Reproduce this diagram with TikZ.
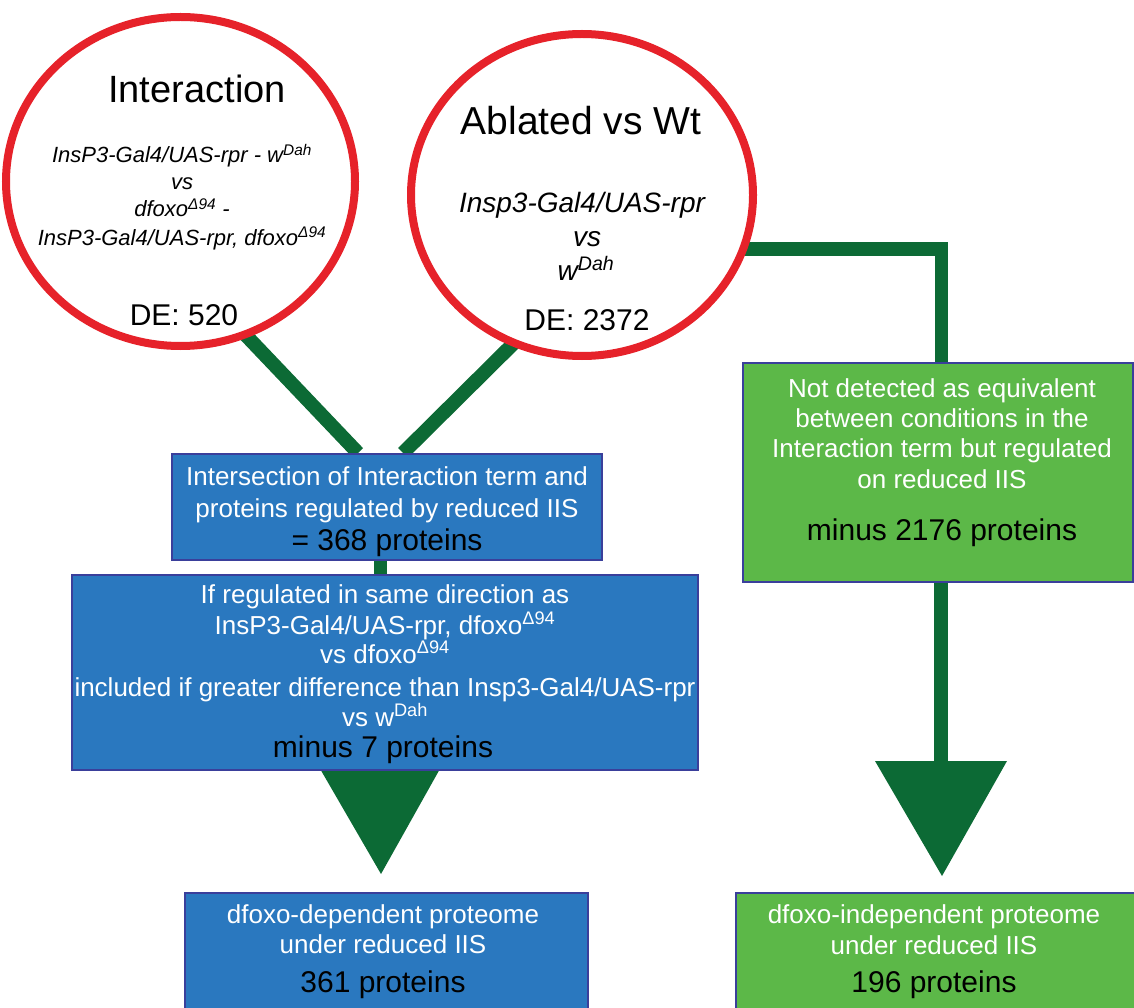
\documentclass[tikz,border=0pt]{standalone}
\usepackage{fontspec}
\setmainfont{Liberation Sans}
\usetikzlibrary{shapes.geometric,calc,backgrounds}
\definecolor{cred}{HTML}{E6222A}
\definecolor{dgreen}{HTML}{0C6A35}
\definecolor{bfill}{HTML}{2A78BF}
\definecolor{gfill}{HTML}{5CB848}
\definecolor{bdr}{HTML}{3A3F9B}
\newcommand\fsz[1]{\fontsize{#1}{#1}\selectfont}
\begin{document}
\begin{tikzpicture}[x=1pt,y=-1pt,
  ell/.style={ellipse, draw=cred, line width=8pt, fill=white, inner sep=0pt},
  boxx/.style={rectangle, draw=bdr, line width=2pt, inner sep=0pt},
  conn/.style={draw=dgreen, line width=14pt},
  tri/.style={fill=dgreen},
  ttl/.style={font=\fsz{38}, anchor=base, inner sep=0pt},
  itl/.style={font=\fsz{22}\itshape, anchor=base, inner sep=0pt},
  itr/.style={font=\fsz{28}\itshape, anchor=base, inner sep=0pt},
  de/.style={font=\fsz{30}, anchor=base, inner sep=0pt},
  wt/.style={font=\fsz{26}, text=white, anchor=base, inner sep=0pt},
  bt/.style={font=\fsz{30}, text=black, anchor=base, inner sep=0pt}]
\useasboundingbox (0,0) rectangle (1134,1008);
\clip (0,0) rectangle (1134,1008);

% shapes
\node[ell, minimum width=349, minimum height=329] (L) at (180.5,181.5) {};
\node[ell, minimum width=342, minimum height=322] (R) at (582,195) {};
\node[boxx, fill=bfill, minimum width=430, minimum height=106] (B1) at (387,507) {};
\node[boxx, fill=bfill, minimum width=626, minimum height=195] (B2) at (385,672.5) {};
\node[boxx, fill=gfill, minimum width=390, minimum height=219] (G1) at (938,472.5) {};
\node[boxx, fill=bfill, minimum width=403, minimum height=127] (BB) at (386.5,956.5) {};
\node[boxx, fill=gfill, minimum width=400, minimum height=127] (BG) at (936,956.5) {};

% connectors behind
\begin{scope}[on background layer]
\draw[conn] ($(L.center)+(57.5,145.5)$) -- ($(B1.north)+(-29,0)$);
\draw[conn] ($(R.center)+(-62,142)$) -- ($(B1.north)+(16,0)$);
\draw[conn, line width=13pt] ($(B1.south)+(-7,0)$) -- ($(B2.north)+(-5,0)$);
\draw[conn, line width=13pt, line join=miter] ($(R.center)+(148,54)$) -| ($(G1.north)+(3,0)$);
\draw[conn] ($(G1.south)+(3,0)$) -- ($(G1.south)+(3,182)$);
\fill[tri] ($(B2.south)+(-66,-4)$) -- ($(B2.south)+(56,-4)$) -- ($(B2.south)+(-4,103)$) -- cycle;
\fill[tri] ($(G1.south)+(-63,178)$) -- ($(G1.south)+(69,178)$) -- ($(G1.south)+(4,293)$) -- cycle;
\end{scope}

% left circle text
\node[ttl] (l1) at (197,103) {Interaction};
\node[itl] (l2) at (182,163) {InsP3-Gal4/UAS-rpr - w\textsuperscript{Dah}};
\node[itl] (l3) at (182,190) {vs};
\node[itl] (l4) at (182,217) {dfoxo\textsuperscript{Δ94} -};
\node[itl] (l5) at (182,245) {InsP3-Gal4/UAS-rpr, dfoxo\textsuperscript{Δ94}};
\node[de] (l6) at (184,325) {DE: 520};

% right circle text
\node[ttl, font=\fsz{39}] (r1) at (581,135) {Ablated vs Wt};
\node[itr] (r2) at (582,213) {Insp3-Gal4/UAS-rpr};
\node[itr] (r3) at (587,247) {vs};
\node[itr] (r4) at (586,280) {w\textsuperscript{Dah}};
\node[de] (r5) at (587,330) {DE: 2372};

% box 1
\node[wt] (b11) at (387,485) {Intersection of Interaction term and};
\node[wt] (b12) at (387,517) {proteins regulated by reduced IIS};
\node[bt] (b13) at (387,550) {= 368 proteins};

% box 2
\node[wt] (b21) at (385,603) {If regulated in same direction as};
\node[wt] (b22) at (385,634) {InsP3-Gal4/UAS-rpr, dfoxo\textsuperscript{Δ94}};
\node[wt] (b23) at (385,663) {vs dfoxo\textsuperscript{Δ94}};
\node[wt] (b24) at (385,696) {included if greater difference than Insp3-Gal4/UAS-rpr};
\node[wt] (b25) at (385,726) {vs w\textsuperscript{Dah}};
\node[bt] (b26) at (383,757) {minus 7 proteins};

% green box 1
\node[wt] (g11) at (942,397) {Not detected as equivalent};
\node[wt] (g12) at (942,427) {between conditions in the};
\node[wt] (g13) at (942,457) {Interaction term but regulated};
\node[wt] (g14) at (942,488) {on reduced IIS};
\node[bt] (g15) at (942,540) {minus 2176 proteins};

% bottom boxes
\node[wt] (bb1) at (383,923) {dfoxo-dependent proteome};
\node[wt] (bb2) at (383,953) {under reduced IIS};
\node[bt] (bb3) at (383,992) {361 proteins};
\node[wt] (bg1) at (934,923) {dfoxo-independent proteome};
\node[wt] (bg2) at (934,954) {under reduced IIS};
\node[bt] (bg3) at (934,992) {196 proteins};
\end{tikzpicture}
\end{document}
